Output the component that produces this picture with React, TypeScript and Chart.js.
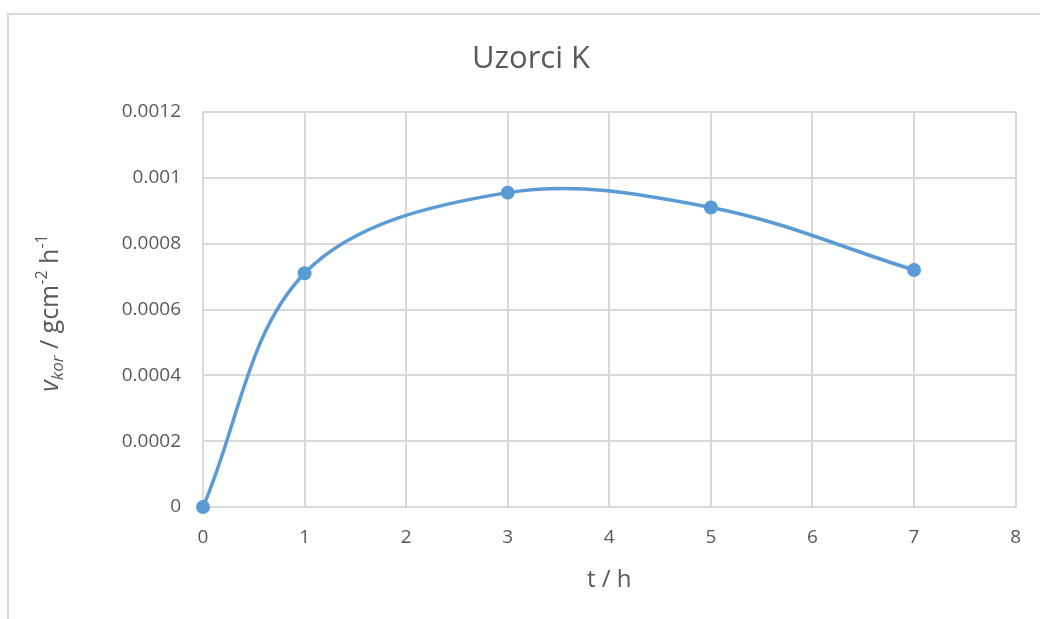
import React, { useEffect, useRef } from "react";
import { Chart, registerables } from "chart.js";

Chart.register(...registerables);

const chartTitle = "Uzorci K";
const xTitle = "t / h";
const timeValues = [0, 1, 3, 5, 7];
const rateValues = [0, 0.00071, 0.000955, 0.00091, 0.00072];
const yTickLabels = ["0", "0.0002", "0.0004", "0.0006", "0.0008", "0.001", "0.0012"];
const xTickLabels = ["0", "1", "2", "3", "4", "5", "6", "7", "8"];

const FONT = "'Open Sans', 'Liberation Sans', sans-serif";
const TEXT = "#595959";
const GRID = "#d9d9d9";
const BLUE = "#5b9bd5";

const decorPlugin = {
  id: "decor",
  beforeDraw(chart: any) {
    const ctx = chart.ctx;
    ctx.save();
    ctx.fillStyle = "#ffffff";
    ctx.fillRect(0, 0, chart.width, chart.height);
    ctx.strokeStyle = GRID;
    ctx.lineWidth = 2;
    ctx.strokeRect(8, 14, chart.width + 20, chart.height + 20);
    ctx.restore();
  },
  afterDraw(chart: any) {
    const ctx = chart.ctx;
    const area = chart.chartArea;
    ctx.save();
    ctx.fillStyle = TEXT;
    ctx.textAlign = "center";
    ctx.textBaseline = "alphabetic";
    ctx.font = `31px ${FONT}`;
    ctx.fillText(chartTitle, 531, 68);
    ctx.font = `24px ${FONT}`;
    ctx.fillText(xTitle, (area.left + area.right) / 2, 587);

    // rotated y title with sub/superscripts
    const segs = [
      { t: "v", size: 25, italic: true, dy: 0 },
      { t: "kor", size: 17, italic: true, dy: 5 },
      { t: " / gcm", size: 25, italic: false, dy: 0 },
      { t: "-2", size: 16, italic: false, dy: -11 },
      { t: " h", size: 25, italic: false, dy: 0 },
      { t: "-1", size: 16, italic: false, dy: -11 },
    ];
    const fontOf = (s: any) => `${s.italic ? "italic " : ""}${s.size}px ${FONT}`;
    let total = 0;
    const widths = segs.map((s) => {
      ctx.font = fontOf(s);
      const w = ctx.measureText(s.t).width;
      total += w;
      return w;
    });
    ctx.translate(58, 313);
    ctx.rotate(-Math.PI / 2);
    ctx.textAlign = "left";
    let x = -total / 2;
    segs.forEach((s, i) => {
      ctx.font = fontOf(s);
      ctx.fillText(s.t, x, s.dy);
      x += widths[i];
    });
    ctx.restore();
  },
};

export default function App() {
  const ref = useRef<HTMLCanvasElement | null>(null);
  useEffect(() => {
    if (!ref.current) return;
    const chart = new Chart(ref.current, {
      type: "scatter",
      data: {
        datasets: [
          {
            data: timeValues.map((t, i) => ({ x: t, y: rateValues[i] })),
            showLine: true,
            borderColor: BLUE,
            backgroundColor: BLUE,
            borderWidth: 3.5,
            pointRadius: 7,
            pointBorderWidth: 0,
            tension: 0.35,
            clip: false,
          },
        ],
      },
      options: {
        animation: false,
        responsive: false,
        maintainAspectRatio: false,
        layout: { padding: { left: 0, right: 23, top: 112, bottom: 0 } },
        plugins: { legend: { display: false }, title: { display: false }, tooltip: { enabled: false } },
        scales: {
          x: {
            type: "linear",
            min: 0,
            max: 8,
            ticks: {
              stepSize: 1,
              color: TEXT,
              font: { family: FONT, size: 19 },
              padding: 19,
              callback: (v: any) => xTickLabels[Math.round(Number(v))] ?? "",
            },
            grid: { color: GRID, lineWidth: 2, drawTicks: false },
            border: { color: GRID, width: 2 },
            afterFit: (scale: any) => {
              scale.height = 112;
            },
          },
          y: {
            type: "linear",
            min: 0,
            max: 0.0012,
            ticks: {
              stepSize: 0.0002,
              color: TEXT,
              font: { family: FONT, size: 19 },
              padding: 22,
              callback: (v: any) => yTickLabels[Math.round(Number(v) / 0.0002)] ?? "",
            },
            grid: { color: GRID, lineWidth: 2, drawTicks: false },
            border: { color: GRID, width: 2 },
            afterFit: (scale: any) => {
              scale.width = 203;
            },
          },
        },
      },
      plugins: [decorPlugin],
    });
    return () => chart.destroy();
  }, []);
  return (
    <div style={{ position: "absolute", left: 0, top: 0, width: 1040, height: 619 }}>
      <canvas ref={ref} width={1040} height={619} style={{ display: "block" }} />
    </div>
  );
}
